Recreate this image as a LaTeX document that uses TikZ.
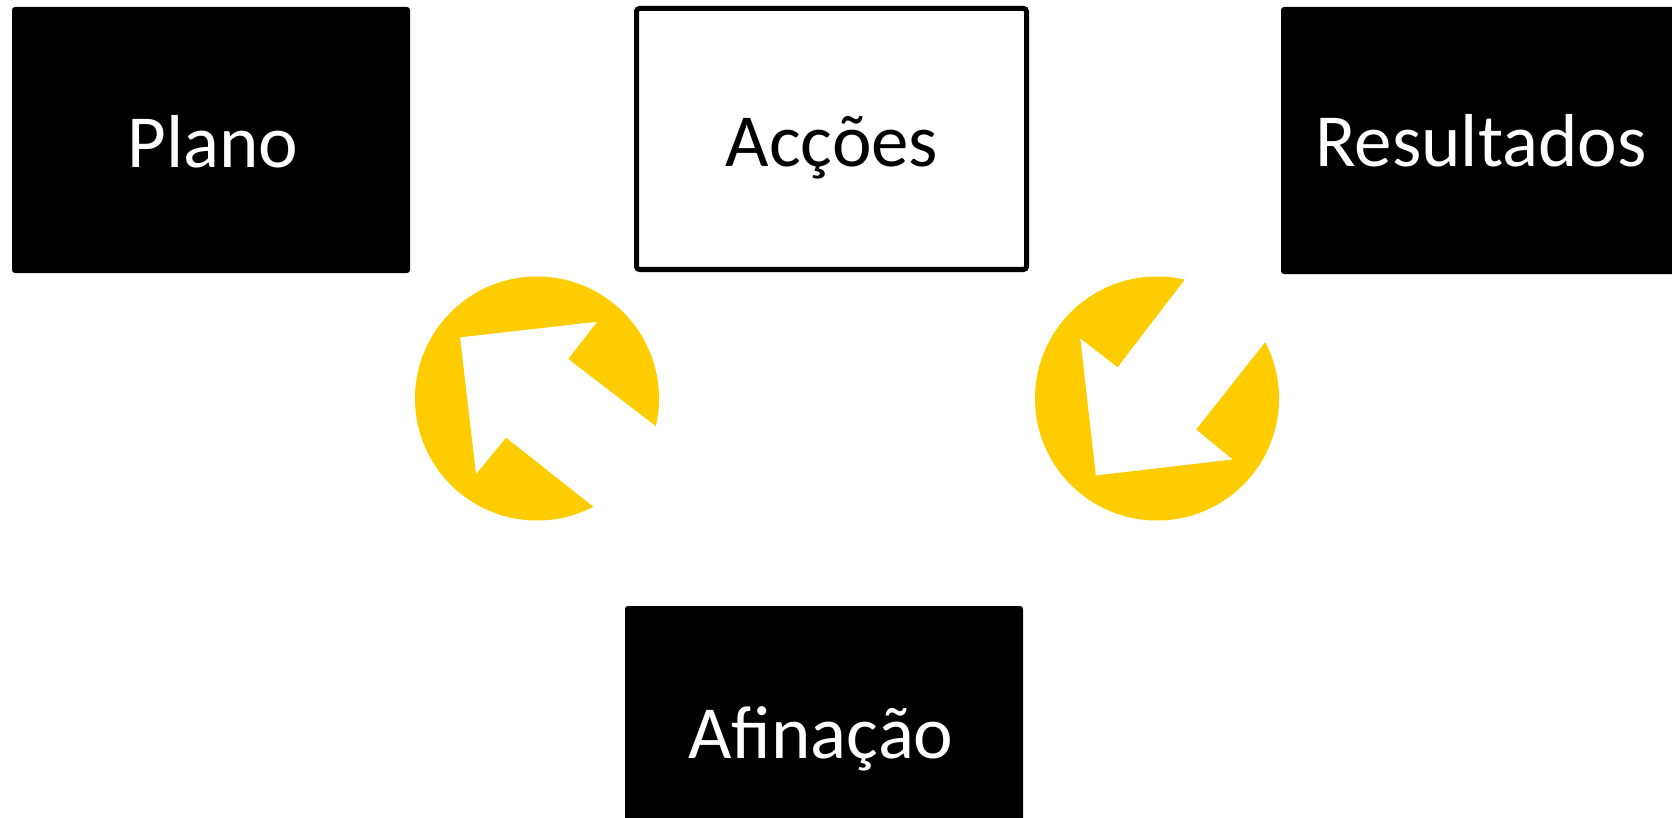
\documentclass[tikz,border=0pt]{standalone}
\usepackage{fontspec}
\setmainfont{Carlito}
\definecolor{gold}{RGB}{255,204,0}
\begin{document}
\begin{tikzpicture}[x=1pt,y=-1pt,
  darkbox/.style={fill=black, rounded corners=3pt, inner sep=0pt, minimum width=398pt, minimum height=266pt},
  openbox/.style={fill=white, draw=black, line width=5pt, rounded corners=3pt, inner sep=0pt, minimum width=390pt, minimum height=261pt},
  lbl/.style={anchor=base, inner sep=0pt, font=\fontsize{75}{90}\selectfont},
  disc/.style={circle, inner sep=0pt, minimum size=244pt}]
\clip (0,0) rectangle (1672,818);
\fill[white] (0,0) rectangle (1672,818);

% boxes
\node[darkbox] (plano) at (211,140) {};
\node[openbox] (accoes) at (831.5,139) {};
\node[darkbox, minimum height=267pt] (resultados) at (1480,140.5) {};
\node[darkbox] (afinacao) at (824,739) {};

% labels
\node[lbl, text=white] (tplano) at (213,168) {Plano};
\node[lbl, text=black] (taccoes) at (832,167) {Acções};
\node[lbl, text=white] (tresultados) at (1481,167) {Resultados};
\node[lbl, text=white] (tafinacao) at (821,758) {Afinação};

% left circular arrow
\node[disc] (c1) at (537,398.5) {};
\begin{scope}[shift={(c1.center)}]
  \clip (0,0) circle[radius=122pt];
  \fill[gold, even odd rule] (0,0) circle[radius=130pt]
    (-77,-61.2) -- (60.3,-76.8) -- (31.3,-39.5) -- (208,96)
    -- (143.6,177.2) -- (-31,39.2) -- (-61,75.8) -- cycle;
\end{scope}

% right circular arrow
\node[disc] (c2) at (1157,398.5) {};
\begin{scope}[shift={(c2.center)}]
  \clip (0,0) circle[radius=122pt];
  \fill[gold, even odd rule] (0,0) circle[radius=130pt]
    (-61.2,77) -- (-76.8,-60.3) -- (-39.5,-31.3) -- (96,-208)
    -- (177.2,-143.6) -- (39.2,31) -- (75.8,61) -- cycle;
\end{scope}
\end{tikzpicture}
\end{document}
